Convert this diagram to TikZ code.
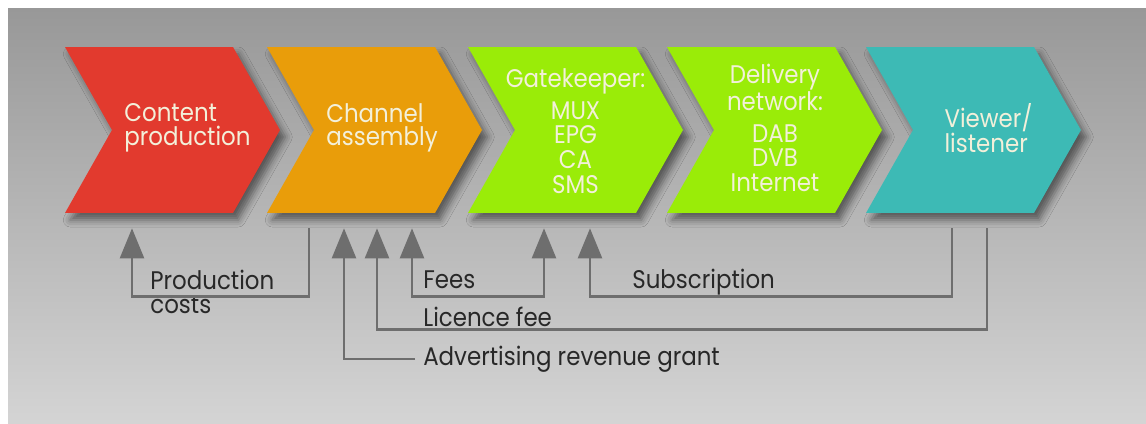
\documentclass[tikz,border=0pt]{standalone}
\usepackage{fontspec}
\setmainfont{Poppins}[FakeStretch=0.9]
\usetikzlibrary{arrows.meta,positioning,shapes.symbols,shadows.blur,calc}
\definecolor{chred}{RGB}{226,58,46}
\definecolor{chorange}{RGB}{233,157,10}
\definecolor{chgreen}{RGB}{154,236,8}
\definecolor{chteal}{RGB}{61,186,181}
\definecolor{chtext}{RGB}{243,240,218}
\definecolor{flowgray}{RGB}{110,110,110}
\definecolor{labelink}{RGB}{40,40,40}
\definecolor{bgtop}{RGB}{152,152,152}
\definecolor{bgbot}{RGB}{212,212,212}

\begin{document}
\begin{tikzpicture}[x=0.02cm,y=-0.02cm,
  chev/.style={signal,signal from=west,signal to=east,signal pointer angle=121,
               minimum width=4.3cm,minimum height=3.32cm,inner sep=0pt,
               blur shadow={shadow xshift=3pt,shadow yshift=-4pt,
                            shadow opacity=50,shadow blur radius=4pt}},
  intxt/.style={text=chtext,font=\fontsize{14.5}{13.4}\selectfont,inner sep=0pt},
  stack/.style={intxt,align=center,font=\fontsize{14.5}{14}\selectfont},
  lbl/.style={text=labelink,font=\fontsize{14.5}{13.6}\selectfont,inner sep=0pt},
  flow/.style={draw=flowgray,line width=1.4pt,
               -{Triangle[width=0.48cm,length=0.6cm]}},
  flowboth/.style={flow,{Triangle[width=0.48cm,length=0.6cm]}-{Triangle[width=0.48cm,length=0.6cm]}}]
  \useasboundingbox (0,0) rectangle (1146,423);
  \fill[white] (0,0) rectangle (1146,423);
  \shade[top color=bgtop,bottom color=bgbot] (8,8) rectangle (1146,423);

  % value chain
  \foreach \n/\x/\c in {cp/172.5/chred,ca/374.5/chorange,gk/575.5/chgreen,
                        dn/774.5/chgreen,vl/973.5/chteal}{
    \node[chev,fill=\c](\n) at (\x,130) {};}

  \node[intxt,align=left](cptxt) at ($(cp)+(15,-2)$) {Content\\production};
  \node[intxt,align=left](catxt) at ($(ca)+(7.5,-2)$) {Channel\\assembly};
  \node[stack](gktxt) at ($(gk)+(0,1)$)
    {Gatekeeper:\\[4pt]MUX\\EPG\\CA\\SMS};
  \node[stack](dntxt) at ($(dn)+(0.5,-2)$)
    {Delivery\\network:\\[4pt]DAB\\DVB\\Internet};
  \node[intxt,align=left](vltxt) at ($(vl)+(15,-2)$) {Viewer/\\listener};

  % money flows
  \node[lbl,align=left,anchor=west] (pcosts) at (150,292) {Production\\costs};
  \node[lbl,anchor=base west] (fees) at (423,288) {Fees};
  \node[lbl,anchor=base west] (subs) at (632,288) {Subscription};
  \node[lbl,anchor=base west] (lic)  at (423,326) {Licence fee};
  \node[lbl,anchor=west,inner xsep=4.5pt] (adv) at (415,359)
    {Advertising revenue grant};

  \draw[flow] ($(ca.south)+(-65.5,15)$) |- ($(cp.south)+(-40.5,83)$)
    -- ($(cp.south)+(-40.5,15)$);
  \draw[flowboth] ($(ca.south)+(37.5,15)$) |- ($(gk.south)+(-31.5,83)$)
    -- ($(gk.south)+(-31.5,15)$);
  \draw[flow] ($(vl.south)+(-21.5,15)$) |- ($(gk.south)+(14.5,83)$)
    -- ($(gk.south)+(14.5,15)$);
  \draw[flow] ($(vl.south)+(13.5,15)$) |- ($(ca.south)+(2.5,116)$)
    -- ($(ca.south)+(2.5,15)$);
  \draw[flow] (adv.west) -| ($(ca.south)+(-30.5,15)$);
\end{tikzpicture}
\end{document}
